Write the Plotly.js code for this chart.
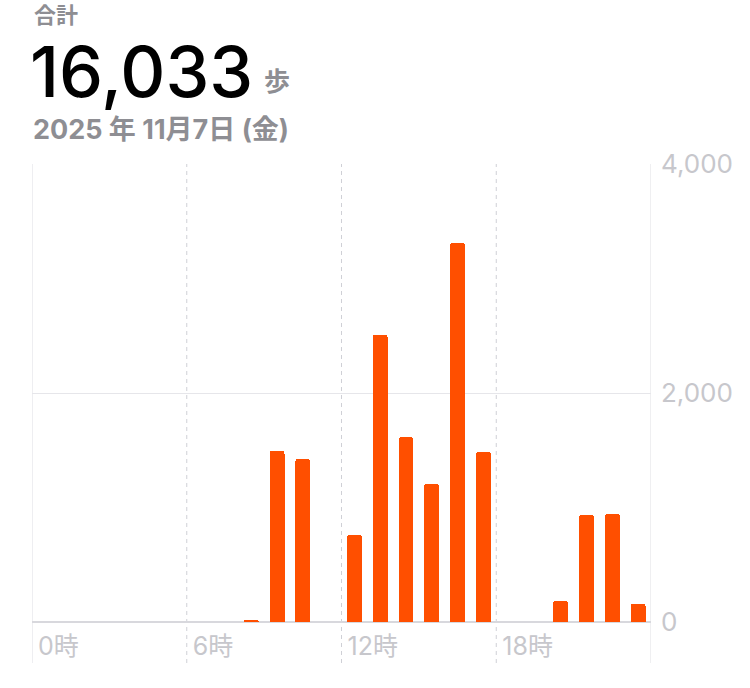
<!DOCTYPE html>
<html>
<head>
<meta charset="utf-8">
<script src="https://cdn.plot.ly/plotly-3.0.1.min.js"></script>
<style>
  html, body { margin: 0; padding: 0; background: #ffffff; }
  #grafico { width: 750px; height: 688px; }
</style>
</head>
<body>
<div id="grafico"></div>
<script>
// dados: passos por hora (0..23)
let horas = [0, 1, 2, 3, 4, 5, 6, 7, 8, 9, 10, 11, 12, 13, 14, 15, 16, 17, 18, 19, 20, 21, 22, 23];
let passos = [0, 0, 0, 0, 0, 0, 0, 0, 18, 1495, 1425, 0, 762, 2510, 1615, 1207, 3310, 1487, 0, 0, 185, 935, 944, 160];
let ticksX = [0, 6, 12, 18];
let rotulosX = ['0時', '6時', '12時', '18時'];
let ticksY = [0, 2000, 4000];
let total = '16,033';
let unidade = '歩';
let titulo = '合計';
let data = '2025 年 11月7日 (金)';

let fonte = 'Inter, "Noto Sans CJK JP", sans-serif';
let cinza = '#8e8e93';
let cinzaClaro = '#c7c7cc';

// margens da area do grafico (px)
let topo = 164, base = 622;
let altura = base - topo;
function py(y) { return (base - y) / altura; } // pixel -> paper

// barras centradas no meio de cada hora
let xBarras = horas.map(function (h) { return h + 0.5; });

let trace1 = {
  x: xBarras,
  y: passos,
  type: 'bar',
  width: 0.58,
  marker: { color: '#ff4f00', cornerradius: 3, line: { width: 0 } },
  hoverinfo: 'none'
};

// linhas verticais (bordas solidas, meio tracejadas)
let linhas = [];
let posLinhas = ticksX.concat([24]);
posLinhas.forEach(function (v) {
  let borda = (v === 0 || v === 24);
  linhas.push({
    type: 'line', xref: 'x', yref: 'paper',
    x0: v, x1: v, y0: py(663), y1: 1,
    line: { color: borda ? '#dedee3' : '#cfd0d6', width: 1, dash: borda ? 'solid' : '4px,4px' },
    layer: 'below'
  });
});

let layout = {
  width: 750,
  height: 688,
  margin: { l: 32, r: 99, t: topo, b: 688 - base },
  paper_bgcolor: '#ffffff',
  plot_bgcolor: '#ffffff',
  showlegend: false,
  bargap: 0,
  font: { family: fonte },
  xaxis: {
    range: [0, 24],
    tickvals: ticksX,
    ticktext: rotulosX,
    ticklabelposition: 'outside right',
    ticklabelstandoff: 7,
    ticklabelshift: 6,
    tickfont: { size: 25, color: cinzaClaro },
    showgrid: false,
    zeroline: false,
    showline: false,
    ticks: '',
    fixedrange: true
  },
  yaxis: {
    range: [0, 4000],
    side: 'right',
    tickvals: ticksY,
    tickformat: ',d',
    tickfont: { size: 26, color: cinzaClaro },
    showgrid: true,
    gridcolor: '#e6e6ea',
    gridwidth: 1,
    zeroline: true,
    zerolinecolor: '#d8d8dd',
    zerolinewidth: 1.5,
    showline: false,
    ticks: '',
    ticklabelstandoff: 9,
    fixedrange: true
  },
  shapes: linhas,
  annotations: [
    { text: '<b>' + titulo + '</b>', xref: 'paper', yref: 'paper', x: 0, y: py(15),
      xanchor: 'left', yanchor: 'middle', showarrow: false,
      font: { size: 22, color: cinza, family: fonte } },
    { text: total, xref: 'paper', yref: 'paper', x: -0.006, y: py(72),
      xanchor: 'left', yanchor: 'middle', showarrow: false,
      font: { size: 70, color: '#000000', family: fonte, weight: 500 } },
    { text: '<b>' + unidade + '</b>', xref: 'paper', yref: 'paper', x: 230 / 619, y: py(82),
      xanchor: 'left', yanchor: 'middle', showarrow: false,
      font: { size: 26, color: cinza, family: fonte } },
    { text: '<b>' + data + '</b>', xref: 'paper', yref: 'paper', x: -0.002, y: py(130),
      xanchor: 'left', yanchor: 'middle', showarrow: false,
      font: { size: 27, color: cinza, family: fonte } }
  ]
};

Plotly.newPlot('grafico', [trace1], layout, { staticPlot: true, displayModeBar: false });
</script>
</body>
</html>
